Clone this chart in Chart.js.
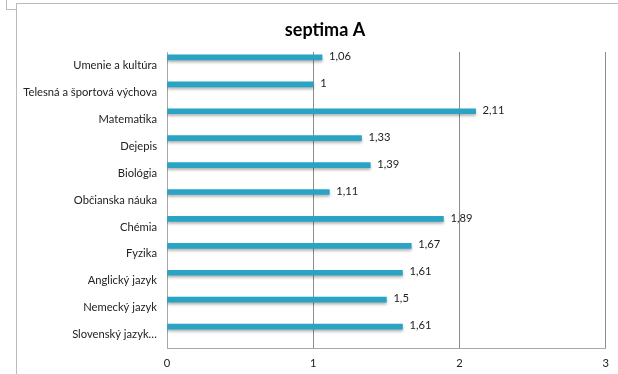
<!DOCTYPE html>
<html>
<head>
<meta charset="utf-8">
<script src="https://cdn.jsdelivr.net/npm/chart.js@4"></script>
<style>
  html, body { margin: 0; padding: 0; background: #fff; }
  #wrap { position: relative; width: 618px; height: 374px; overflow: hidden; }
  #frame { position: absolute; left: 16px; top: 3px; width: 640px; height: 400px;
           border-left: 1px solid #bcbcbc; border-top: 1px solid #bcbcbc; }
  #corner { position: absolute; left: 6px; top: -1px; width: 10px; height: 10px;
            border-left: 1px solid #bcbcbc; border-bottom: 1px solid #bcbcbc; }
  canvas { position: absolute; left: 0; top: 0; }
</style>
</head>
<body>
<div id="wrap">
  <div id="corner"></div>
  <div id="frame"></div>
  <canvas id="chart" width="618" height="374"></canvas>
</div>
<script>
var chartTitle = "septima A";
var subjects = [
  "Umenie a kultúra",
  "Telesná a športová výchova",
  "Matematika",
  "Dejepis",
  "Biológia",
  "Občianska náuka",
  "Chémia",
  "Fyzika",
  "Anglický jazyk",
  "Nemecký jazyk",
  "Slovenský jazyk…"
];
var averages = [1.06, 1, 2.11, 1.33, 1.39, 1.11, 1.89, 1.67, 1.61, 1.5, 1.61];
var xTicks = [0, 1, 2, 3];

var FONT = "Lato, 'Open Sans', sans-serif";

// bars sit a bit above the category centre, like in the original sheet
var barShift = {
  id: "barShift",
  afterDatasetsUpdate: function (chart) {
    chart.getDatasetMeta(0).data.forEach(function (bar) { bar.y -= 8; });
  },
  beforeDatasetsDraw: function (chart) {
    var c = chart.ctx;
    c.save();
    c.shadowColor = "rgba(0,0,0,0.3)";
    c.shadowBlur = 3;
    c.shadowOffsetY = 2;
  },
  afterDatasetsDraw: function (chart) {
    var c = chart.ctx;
    c.restore();
    c.save();
    c.font = "11.2px " + FONT;
    c.fillStyle = "#222";
    c.textBaseline = "middle";
    chart.getDatasetMeta(0).data.forEach(function (bar, i) {
      c.fillText(String(averages[i]).replace(".", ","), bar.x + 7, bar.y - 1);
    });
    c.restore();
  }
};

var titlePlugin = {
  id: "titlePlugin",
  afterDraw: function (chart) {
    var c = chart.ctx;
    c.save();
    c.font = "bold 18px " + FONT;
    c.fillStyle = "#000";
    c.textAlign = "center";
    c.textBaseline = "middle";
    c.fillText(chartTitle, 325, 30);
    c.restore();
  }
};

var ctx = document.getElementById("chart").getContext("2d");
var chart = new Chart(ctx, {
  type: "bar",
  data: {
    labels: subjects,
    datasets: [{
      data: averages,
      backgroundColor: function (context) {
        var bar = context.element;
        if (!bar || bar.y === undefined) return "#2aa3c4";
        var g = context.chart.ctx.createLinearGradient(0, bar.y - 2.5, 0, bar.y + 2.5);
        g.addColorStop(0, "#4cc0de");
        g.addColorStop(0.5, "#2aa3c4");
        g.addColorStop(1, "#1b7f9c");
        return g;
      },
      barThickness: 5,
      borderWidth: 0
    }]
  },
  options: {
    indexAxis: "y",
    responsive: false,
    animation: false,
    events: [],
    layout: { padding: { left: 16, right: 12, top: 52, bottom: 0 } },
    plugins: {
      legend: { display: false },
      tooltip: { enabled: false },
      title: { display: false }
    },
    scales: {
      x: {
        min: 0,
        max: 3,
        afterBuildTicks: function (axis) {
          axis.ticks = xTicks.map(function (v) { return { value: v }; });
        },
        afterFit: function (axis) { axis.height = 26; },
        grid: { color: "#8c8c8c", lineWidth: 1, drawTicks: false },
        border: { color: "#a8a8a8" },
        ticks: { color: "#222", font: { family: FONT, size: 11.2 }, padding: 9, maxRotation: 0 }
      },
      y: {
        afterFit: function (axis) { axis.width = 151; },
        grid: { display: false, drawTicks: false },
        border: { color: "#a8a8a8" },
        ticks: { color: "#222", font: { family: FONT, size: 11.2 }, padding: 10, autoSkip: false }
      }
    }
  },
  plugins: [barShift, titlePlugin]
});
</script>
</body>
</html>
